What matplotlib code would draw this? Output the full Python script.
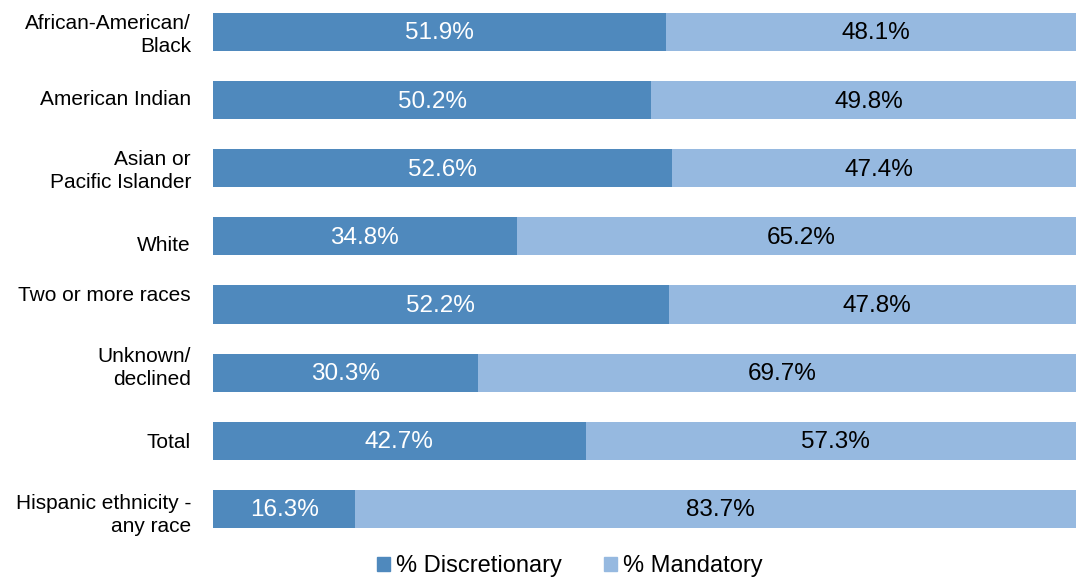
import matplotlib
matplotlib.use("Agg")
import matplotlib.pyplot as plt
import matplotlib.transforms as mtransforms
from matplotlib.patches import Patch

categories = ["African-American/\nBlack", "American Indian", "Asian or\nPacific Islander",
              "White", "Two or more races", "Unknown/\ndeclined", "Total",
              "Hispanic ethnicity -\nany race"]
discretionary = [51.9, 50.2, 52.6, 34.8, 52.2, 30.3, 42.7, 16.3]
mandatory = [48.1, 49.8, 47.4, 65.2, 47.8, 69.7, 57.3, 83.7]
series_names = ["% Discretionary", "% Mandatory"]

# small vertical nudges (pixels, positive = down) of category labels as in the reference
label_shift_px = [3, -1, 3, 9, -9, -5, 2, 6]

c_dark = "#4F89BD"
c_light = "#96B9E0"

plt.rcParams['font.family'] = ['Liberation Sans', 'DejaVu Sans']

fig = plt.figure(figsize=(10.76, 5.78), dpi=100)
ax = fig.add_axes([213/1076, 1 - 543/578, 873/1076, 543/578])

y = list(range(len(categories)))
h = 0.56
ax.barh(y, discretionary, height=h, color=c_dark, edgecolor='none')
ax.barh(y, mandatory, left=discretionary, height=h, color=c_light, edgecolor='none')

for i, (d, m) in enumerate(zip(discretionary, mandatory)):
    ax.text(d/2, i + 0.02, f"{d:.1f}%", ha='center', va='center', color='white', fontsize=17.5)
    ax.text(d + m/2, i + 0.02, f"{m:.1f}%", ha='center', va='center', color='black', fontsize=17.5)

ax.set_xlim(0, 100)
ax.set_ylim(7.5, -0.47)
ax.set_yticks([])
ax.set_xticks([])
for s in ax.spines.values():
    s.set_visible(False)

base = mtransforms.blended_transform_factory(ax.transAxes, ax.transData)
for i, (lab, sh) in enumerate(zip(categories, label_shift_px)):
    tr = base + mtransforms.ScaledTranslation(-22/100, -sh/100, fig.dpi_scale_trans)
    ax.text(0, i, lab, transform=tr, ha='right', va='center', multialignment='right',
            fontsize=15, linespacing=1.25)

handles = [Patch(color=c_dark), Patch(color=c_light)]
fig.legend(handles, series_names, loc='center', bbox_to_anchor=(570/1076, 1 - 566/578),
           ncol=2, frameon=False, fontsize=17, handlelength=0.55, handleheight=0.55,
           handletextpad=0.25, columnspacing=1.8, borderpad=0, borderaxespad=0)

fig.savefig("out.png", dpi=100)
